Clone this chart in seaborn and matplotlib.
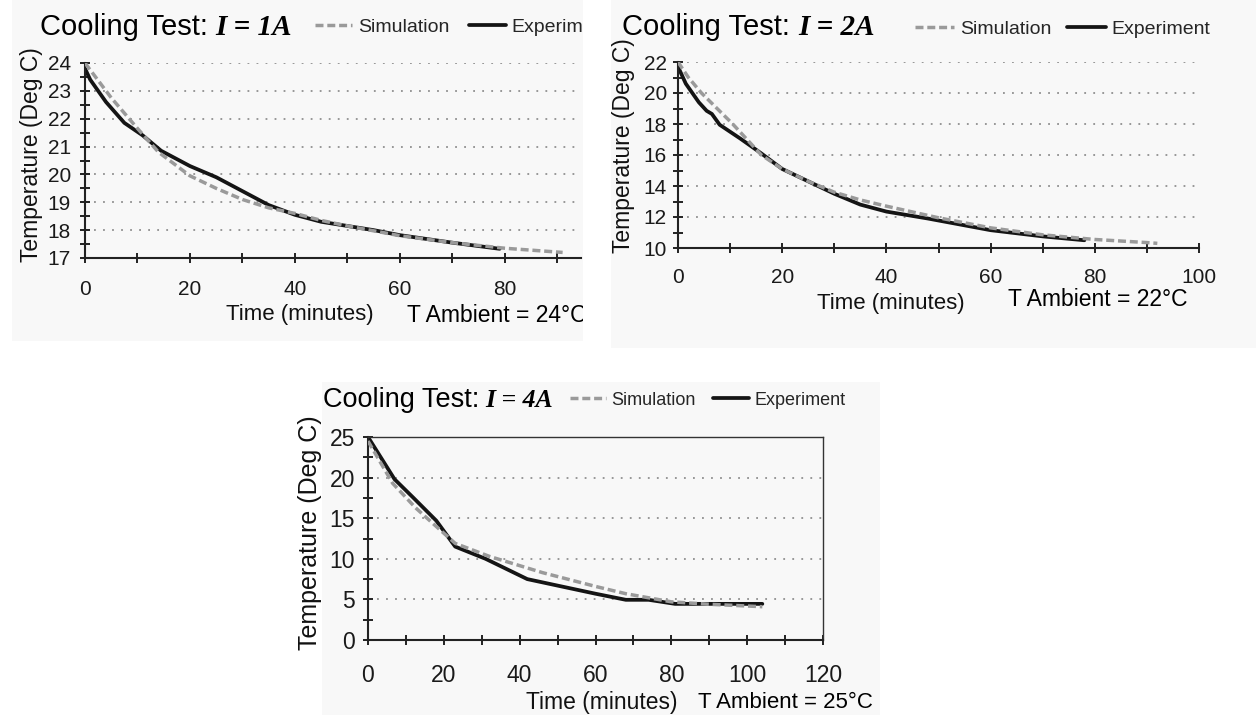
import matplotlib
matplotlib.use("Agg")
import matplotlib.pyplot as plt
import pandas as pd
import seaborn as sns
from matplotlib.ticker import MultipleLocator
from matplotlib.patches import Rectangle
from matplotlib.transforms import Bbox, TransformedBbox

# ---------------- data ----------------
series_names = ["Simulation", "Experiment"]

# I = 1A
p1_sim_time = [0, 5, 10, 14, 20, 25, 30, 35, 40, 45, 50, 60, 70, 80, 91]
p1_sim_temp = [24.0, 22.75, 21.65, 20.8, 19.95, 19.5, 19.1, 18.8, 18.6, 18.35, 18.15, 17.8, 17.55, 17.35, 17.2]
p1_exp_time = [0, 1, 4, 7.5, 11, 14.5, 20, 25, 30, 35, 40, 45, 50, 55, 60, 70, 79]
p1_exp_temp = [23.8, 23.4, 22.6, 21.85, 21.4, 20.85, 20.3, 19.9, 19.4, 18.9, 18.55, 18.3, 18.15, 18.0, 17.82, 17.55, 17.33]

# I = 2A
p2_sim_time = [0, 2, 4.5, 7.5, 10.5, 16, 20, 25, 30, 35, 40, 50, 60, 70, 80, 90, 92]
p2_sim_temp = [22.0, 21.0, 20.0, 19.0, 18.0, 16.0, 15.1, 14.3, 13.6, 13.1, 12.7, 11.95, 11.3, 10.85, 10.55, 10.35, 10.3]
p2_exp_time = [0, 1.5, 4, 5.5, 6.5, 8, 12, 16, 20, 25, 30, 35, 40, 48, 60, 70, 78]
p2_exp_temp = [21.7, 20.6, 19.4, 18.85, 18.65, 17.95, 17.05, 16.1, 15.1, 14.3, 13.5, 12.8, 12.35, 11.9, 11.15, 10.75, 10.5]

# I = 4A
p3_sim_time = [0, 6.5, 12.5, 17, 23, 32, 46, 60, 68, 80, 90, 104]
p3_sim_temp = [24.5, 19.3, 16.3, 14.4, 11.9, 10.3, 8.3, 6.6, 5.7, 4.7, 4.4, 4.1]
p3_exp_time = [0, 7, 12, 18, 23, 31, 42, 50, 60, 68, 74, 81, 104]
p3_exp_temp = [25.0, 19.8, 17.5, 14.7, 11.5, 10.0, 7.5, 6.7, 5.7, 4.95, 4.95, 4.45, 4.45]

currents = ["1A", "2A", "4A"]
ambients = ["T Ambient = 24°C", "T Ambient = 22°C", "T Ambient = 25°C"]

# ---------------- style ----------------
sns.set_style("white")
plt.rcParams["font.family"] = ["Liberation Sans", "DejaVu Sans"]
plt.rcParams["axes.unicode_minus"] = False

W, H = 1256, 715
fig = plt.figure(figsize=(W / 100, H / 100), dpi=100)
fig.patch.set_facecolor("white")


def fx(px):
    return px / W


def fy(py):
    return 1 - py / H


# light scan backgrounds (behind everything)
for (l, t, r, b) in [(12, 0, 583, 341), (611, 0, 1256, 348), (322, 382, 880, 715)]:
    fig.patches.append(Rectangle((fx(l), fy(b)), (r - l) / W, (b - t) / H,
                                 transform=fig.transFigure, facecolor="#f8f8f8",
                                 edgecolor="none", zorder=-10))

palette = {"Simulation": "#9a9a9a", "Experiment": "#141414"}
dashes = {"Simulation": (2.3, 1.1), "Experiment": ""}

panels = [
    dict(box=(85, 63, 581, 258), xlim=(0, 94.5), ylim=(17, 24), xmaj=20, xmin=10, ymaj=1, ymin=0.5,
         sim=(p1_sim_time, p1_sim_temp), exp=(p1_exp_time, p1_exp_temp),
         tick_fs=15, xpad=12, ypad=6.5, ylab_c=(32, 155), ylab_fs=16.5, xlab_c=(300, 315), xlab_fs=16,
         title_xy=(40, 35), title_fs=21, cur_fs=21, cur_gap=7, leg_xy=(315, 27), leg_fs=14,
         leg_hl=1.9, leg_cs=1.0, amb_xy=(407, 315), amb_fs=16.5, box_full=False, clip=583),
    dict(box=(678, 62, 1199, 248), xlim=(0, 100), ylim=(10, 22), xmaj=20, xmin=10, ymaj=2, ymin=1,
         sim=(p2_sim_time, p2_sim_temp), exp=(p2_exp_time, p2_exp_temp),
         tick_fs=15, xpad=11, ypad=4.5, ylab_c=(623, 146), ylab_fs=16.5, xlab_c=(891, 303), xlab_fs=16,
         title_xy=(622, 35), title_fs=21, cur_fs=21, cur_gap=8, leg_xy=(915, 29), leg_fs=14,
         leg_hl=2.0, leg_cs=0.8, amb_xy=(1008, 300), amb_fs=16.5, box_full=False, clip=None),
    dict(box=(368, 437, 823, 640), xlim=(0, 120), ylim=(0, 25), xmaj=20, xmin=10, ymaj=5, ymin=2.5,
         sim=(p3_sim_time, p3_sim_temp), exp=(p3_exp_time, p3_exp_temp),
         tick_fs=16.5, xpad=14, ypad=6, ylab_c=(310, 533), ylab_fs=18, xlab_c=(602, 702), xlab_fs=16.5,
         title_xy=(323, 407), title_fs=19.5, cur_fs=18.5, cur_gap=6, leg_xy=(570, 400), leg_fs=13,
         leg_hl=2.0, leg_cs=0.95, amb_xy=(698, 702), amb_fs=16, box_full=True, clip=None),
]

renderer = fig.canvas.get_renderer()

for p, cur, amb in zip(panels, currents, ambients):
    l, t, r, b = p["box"]
    ax = fig.add_axes([fx(l), fy(b), (r - l) / W, (b - t) / H])
    ax.set_facecolor("none")
    ax.set_zorder(1)

    df = pd.concat([
        pd.DataFrame({"Time": p["sim"][0], "Temperature": p["sim"][1], "Series": "Simulation"}),
        pd.DataFrame({"Time": p["exp"][0], "Temperature": p["exp"][1], "Series": "Experiment"}),
    ], ignore_index=True)

    sns.lineplot(data=df, x="Time", y="Temperature", hue="Series", style="Series",
                 hue_order=series_names, style_order=series_names,
                 palette=palette, dashes=dashes, linewidth=2.7,
                 estimator=None, legend=False, ax=ax)

    handles = {}
    for ln in ax.lines:
        if matplotlib.colors.to_hex(ln.get_color()) == palette["Simulation"]:
            ln.set_zorder(3)
            ln.set_linewidth(2.5)
            handles["Simulation"] = ln
        else:
            ln.set_zorder(2.5)
            ln.set_solid_capstyle("round")
            ln.set_solid_joinstyle("round")
            handles["Experiment"] = ln

    ax.set_xlim(*p["xlim"])
    ax.set_ylim(*p["ylim"])
    ax.xaxis.set_major_locator(MultipleLocator(p["xmaj"]))
    ax.xaxis.set_minor_locator(MultipleLocator(p["xmin"]))
    ax.yaxis.set_major_locator(MultipleLocator(p["ymaj"]))
    ax.yaxis.set_minor_locator(MultipleLocator(p["ymin"]))

    ax.yaxis.grid(True, which="major", linestyle=(0, (1, 4)), linewidth=1.3, color="#8f8f8f")
    ax.xaxis.grid(False)
    ax.set_axisbelow(True)

    for side in ["left", "bottom"]:
        ax.spines[side].set_visible(True)
        ax.spines[side].set_linewidth(1.5)
        ax.spines[side].set_color("#222222")
    for side in ["top", "right"]:
        if p["box_full"]:
            ax.spines[side].set_visible(True)
            ax.spines[side].set_linewidth(1.0)
            ax.spines[side].set_color("#333333")
        else:
            ax.spines[side].set_visible(False)

    ax.tick_params(which="both", direction="inout", length=7, width=1.4, color="#222222",
                   bottom=True, left=True, top=False, right=False)
    ax.tick_params(axis="x", which="major", labelsize=p["tick_fs"], pad=p["xpad"], labelcolor="#1a1a1a")
    ax.tick_params(axis="y", which="major", labelsize=p["tick_fs"], pad=p["ypad"], labelcolor="#1a1a1a")

    ax.set_xlabel("Time (minutes)", fontsize=p["xlab_fs"], va="center", color="#111111")
    ax.xaxis.set_label_coords((p["xlab_c"][0] - l) / (r - l), (b - p["xlab_c"][1]) / (b - t))
    ax.set_ylabel("Temperature (Deg C)", fontsize=p["ylab_fs"], va="center", color="#111111")
    ax.yaxis.set_label_coords((p["ylab_c"][0] - l) / (r - l), (b - p["ylab_c"][1]) / (b - t))

    # title: "Cooling Test:" + serif bold italic current
    tx, ty = p["title_xy"]
    t1 = fig.text(fx(tx), fy(ty), "Cooling Test:", fontsize=p["title_fs"], va="baseline",
                  ha="left", color="black")
    ext = t1.get_window_extent(renderer=renderer)
    fig.text(fx(ext.x1 + p["cur_gap"]), fy(ty), f"I = {cur}", fontsize=p["cur_fs"], va="baseline",
             ha="left", family=["Liberation Serif", "DejaVu Serif"], fontweight="bold",
             fontstyle="italic", color="black")

    lx, ly = p["leg_xy"]
    leg = ax.legend([handles["Simulation"], handles["Experiment"]], series_names,
                    loc="center left", bbox_to_anchor=(fx(lx), fy(ly)),
                    bbox_transform=fig.transFigure, ncol=2, frameon=False,
                    fontsize=p["leg_fs"], handlelength=p["leg_hl"], handletextpad=0.3,
                    columnspacing=p["leg_cs"], borderpad=0, borderaxespad=0)

    ax_t = fig.text(fx(p["amb_xy"][0]), fy(p["amb_xy"][1]), amb, fontsize=p["amb_fs"],
                    va="center", ha="left", color="black")

    if p["clip"] is not None:
        cb = TransformedBbox(Bbox([[0, 0], [fx(p["clip"]), 1]]), fig.transFigure)
        for txt in list(leg.get_texts()) + [ax_t]:
            txt.set_clip_box(cb)
            txt.set_clip_on(True)

fig.savefig("out.png", dpi=100, facecolor="white")
